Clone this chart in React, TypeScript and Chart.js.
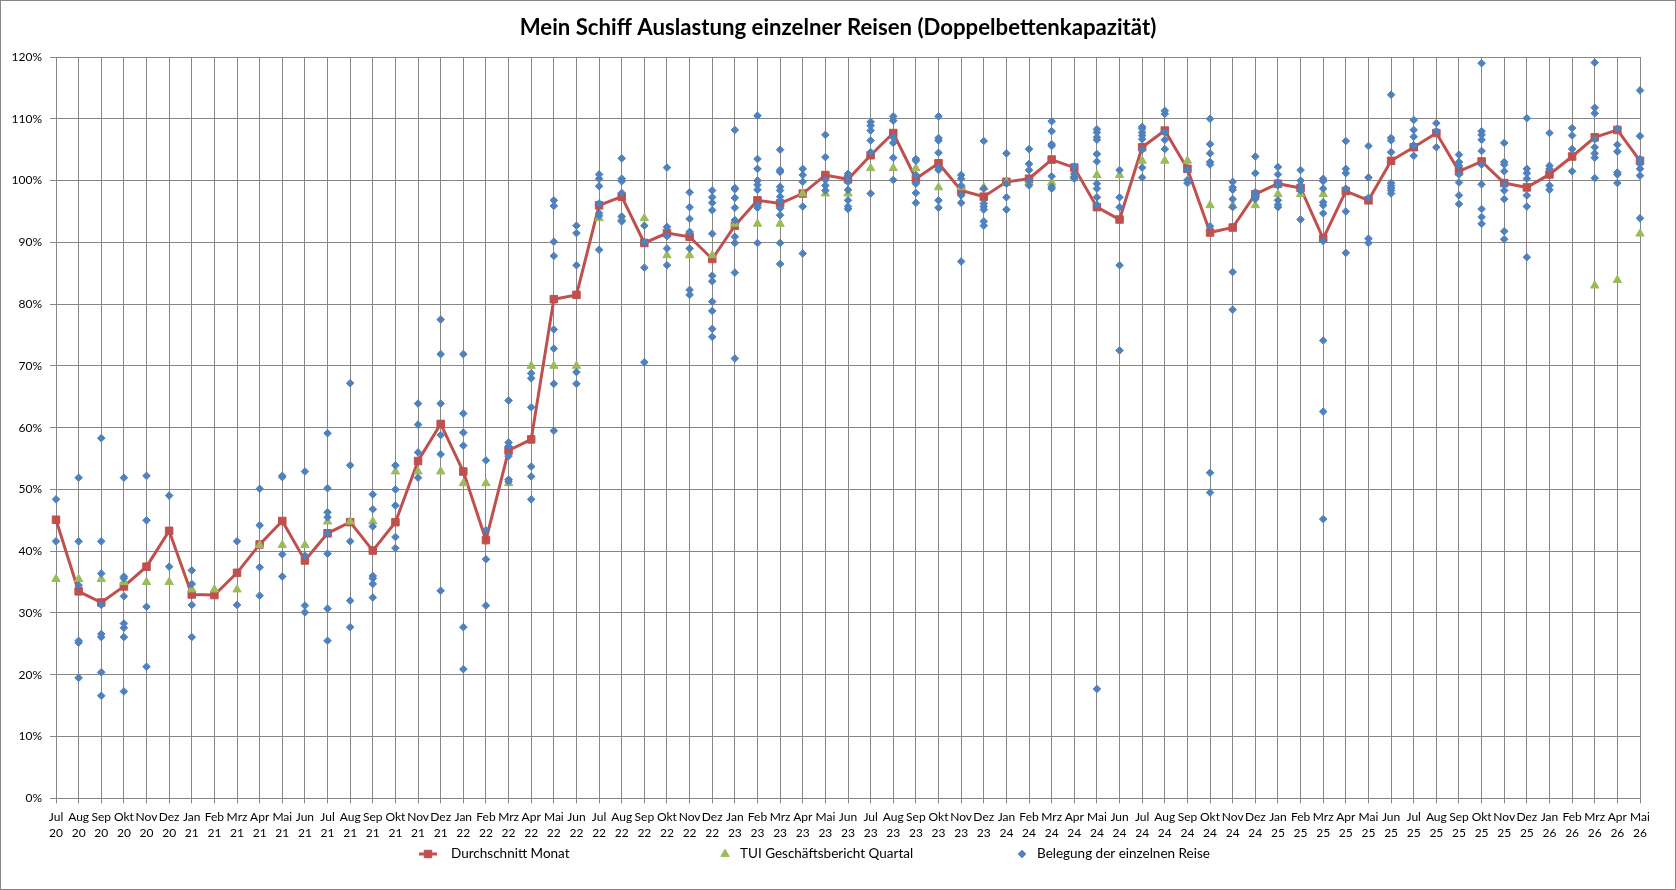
import { useEffect, useRef } from "react";
import { Chart, registerables } from "chart.js";
import type { Plugin } from "chart.js";
import { drawPoint } from "chart.js/helpers";

Chart.register(...registerables);

const FONT = "Lato, 'Open Sans', sans-serif";
const RED = "#C0504D";
const GREEN = "#9BBB59";
const BLUE = "#4F81BD";
const GRID = "#868686";

const months = [
    "Jul 20", "Aug 20", "Sep 20", "Okt 20", "Nov 20", "Dez 20",
    "Jan 21", "Feb 21", "Mrz 21", "Apr 21", "Mai 21", "Jun 21", "Jul 21", "Aug 21", "Sep 21", "Okt 21", "Nov 21", "Dez 21",
    "Jan 22", "Feb 22", "Mrz 22", "Apr 22", "Mai 22", "Jun 22", "Jul 22", "Aug 22", "Sep 22", "Okt 22", "Nov 22", "Dez 22",
    "Jan 23", "Feb 23", "Mrz 23", "Apr 23", "Mai 23", "Jun 23", "Jul 23", "Aug 23", "Sep 23", "Okt 23", "Nov 23", "Dez 23",
    "Jan 24", "Feb 24", "Mrz 24", "Apr 24", "Mai 24", "Jun 24", "Jul 24", "Aug 24", "Sep 24", "Okt 24", "Nov 24", "Dez 24",
    "Jan 25", "Feb 25", "Mrz 25", "Apr 25", "Mai 25", "Jun 25", "Jul 25", "Aug 25", "Sep 25", "Okt 25", "Nov 25", "Dez 25",
    "Jan 26", "Feb 26", "Mrz 26", "Apr 26", "Mai 26",
];

// Durchschnitt Monat (%)
const monthAverage = [
    45.1, 33.5, 31.7, 34.3, 37.5, 43.3,
    33.0, 32.9, 36.5, 41.1, 44.9, 38.5, 42.9, 44.7, 40.1, 44.7, 54.6, 60.6,
    52.9, 41.8, 56.3, 58.1, 80.8, 81.5, 96.0, 97.4, 89.9, 91.5, 90.9, 87.3,
    92.7, 96.8, 96.3, 97.9, 100.9, 100.2, 104.1, 107.7, 100.3, 102.8, 98.4, 97.4,
    99.8, 100.3, 103.4, 102.1, 95.7, 93.7, 105.4, 108.1, 101.9, 91.6, 92.4, 97.8,
    99.5, 98.8, 90.6, 98.3, 96.8, 103.2, 105.4, 107.7, 101.5, 103.1, 99.6, 98.9,
    101.0, 103.9, 107.0, 108.2, 103.2,
];

// TUI Geschäftsbericht Quartal (%)
const tuiQuarter = [
    35.5, 35.5, 35.5, 35.0, 35.0, 35.0,
    33.8, 33.8, 33.8, 41.0, 41.0, 41.0, 44.8, 44.8, 44.8, 52.9, 52.9, 52.9,
    51.0, 51.0, 51.0, 70.0, 70.0, 70.0, 93.9, 93.9, 93.9, 87.9, 87.9, 87.9,
    93.0, 93.0, 93.0, 97.9, 97.9, 97.9, 102.0, 102.0, 102.0, 98.9, 98.9, 98.9,
    99.7, 99.7, 99.7, 100.9, 100.9, 100.9, 103.2, 103.2, 103.2, 96.0, 96.0, 96.0,
    97.8, 97.8, 97.8, null, null, null, null, null, null, null, null, null,
    null, null, 83.0, 83.9, 91.4,
];

// Belegung der einzelnen Reise (%), one list per month
const tripValues: number[][] = [
    [48.4, 41.6],
    [51.9, 41.6, 34.5, 25.5, 25.2, 19.5],
    [58.3, 41.6, 36.4, 31.3, 26.6, 26.1, 20.4, 16.6],
    [51.9, 35.9, 35.6, 32.7, 28.3, 27.6, 26.1, 17.3],
    [52.2, 45.0, 31.0, 21.3],
    [49.0, 37.5],
    [36.9, 34.7, 31.3, 26.1],
    [],
    [41.6, 31.3],
    [50.1, 44.2, 37.4, 32.8],
    [52.2, 52.0, 39.5, 35.9],
    [52.9, 39.3, 31.2, 30.1],
    [59.1, 50.2, 46.3, 45.5, 42.9, 39.6, 30.7, 25.5],
    [67.2, 53.9, 41.6, 32.0, 27.7],
    [49.2, 46.8, 44.0, 36.0, 35.6, 34.7, 32.5],
    [53.9, 50.0, 47.4, 42.3, 40.5],
    [63.9, 60.5, 56.0, 51.9],
    [77.5, 71.9, 63.9, 58.8, 55.7, 33.6],
    [71.9, 62.3, 59.2, 57.1, 27.7, 20.9],
    [54.7, 43.4, 38.7, 31.2],
    [64.4, 57.6, 57.0, 55.4, 51.6, 51.3],
    [68.8, 68.0, 63.3, 53.7, 52.1, 48.4],
    [96.8, 95.9, 90.1, 87.8, 75.9, 72.8, 67.1, 59.5],
    [92.7, 91.5, 86.3, 69.0, 67.1],
    [101.0, 100.3, 99.1, 96.3, 94.7, 94.3, 88.8],
    [103.6, 100.3, 99.9, 98.0, 94.2, 93.4],
    [92.7, 90.0, 85.9, 70.6],
    [102.1, 92.5, 91.0, 89.0, 86.3],
    [98.1, 95.7, 93.8, 91.7, 89.0, 82.3, 81.5],
    [98.4, 97.3, 96.4, 95.2, 91.4, 84.6, 83.7, 80.4, 78.9, 76.0, 74.7],
    [108.2, 98.8, 98.6, 97.2, 95.6, 93.6, 90.9, 89.9, 85.1, 71.2],
    [110.5, 103.5, 101.9, 100.0, 99.3, 98.5, 96.0, 95.6, 89.9],
    [105.0, 101.7, 101.4, 99.0, 98.4, 97.4, 96.6, 95.5, 94.4, 89.9, 86.5],
    [101.9, 100.9, 99.8, 95.8, 88.2],
    [107.4, 103.8, 100.1, 99.2, 98.4],
    [101.1, 100.7, 99.8, 98.5, 96.8, 95.8, 95.4],
    [109.5, 108.9, 108.1, 106.5, 104.6, 97.9],
    [110.4, 109.7, 107.0, 106.1, 103.7, 100.1],
    [103.5, 103.2, 100.9, 99.5, 98.0, 96.4],
    [110.4, 106.9, 106.5, 104.5, 102.1, 101.7, 96.8, 95.6],
    [100.9, 100.3, 99.2, 97.6, 96.4, 86.9],
    [106.4, 98.7, 96.3, 95.8, 95.3, 93.4, 92.7],
    [104.4, 99.5, 97.3, 95.3],
    [105.1, 102.7, 101.7, 100.0, 99.2],
    [109.6, 108.0, 105.9, 105.6, 100.7, 99.0, 98.7],
    [102.3, 101.1, 100.6, 100.3],
    [108.3, 107.8, 107.0, 106.6, 104.3, 103.1, 99.5, 98.7, 97.3, 96.1, 17.7],
    [101.7, 97.3, 95.7, 86.3, 72.5],
    [108.7, 108.4, 107.8, 107.3, 106.7, 105.0, 102.1, 100.5],
    [111.3, 110.8, 107.8, 106.6, 105.1],
    [101.8, 100.1, 99.6],
    [110.0, 105.9, 104.4, 103.0, 102.6, 92.6, 52.7, 49.5],
    [99.8, 98.9, 98.5, 97.0, 95.7, 85.2, 79.1],
    [103.9, 101.2, 98.1, 97.6, 97.0],
    [102.2, 101.0, 99.7, 99.2, 96.8, 96.1, 95.7],
    [101.7, 100.0, 99.2, 98.4, 93.7],
    [100.3, 99.9, 98.7, 96.5, 96.0, 94.7, 90.2, 74.1, 62.6, 45.2],
    [106.4, 101.9, 101.2, 98.7, 95.0, 88.3],
    [105.6, 100.5, 97.2, 90.6, 89.9],
    [113.9, 106.9, 106.5, 104.6, 99.6, 99.2, 98.8, 98.4, 97.9],
    [109.8, 108.2, 107.1, 105.7, 104.0],
    [109.3, 108.0, 105.4],
    [104.2, 103.0, 102.4, 101.0, 99.7, 97.6, 96.2],
    [119.0, 108.0, 107.4, 106.6, 104.8, 102.6, 99.4, 95.4, 94.1, 93.0],
    [106.1, 103.0, 102.6, 101.5, 99.4, 98.4, 97.0, 91.8, 90.5],
    [110.1, 101.9, 101.2, 100.3, 97.6, 95.8, 87.6],
    [107.7, 102.4, 101.9, 99.2, 98.5],
    [108.5, 107.3, 105.1, 101.5],
    [119.1, 111.8, 110.9, 106.7, 105.4, 104.4, 103.7, 100.4],
    [108.4, 105.8, 104.7, 101.3, 101.0, 99.6],
    [114.6, 107.2, 103.5, 102.7, 101.9, 100.8, 93.9],
];

const tripPoints = tripValues.flatMap((vals, i) => vals.map((y) => ({ x: months[i], y })));

// Excel-like legend: equal slots below the plot
const slotLegend: Plugin<"line"> = {
    id: "slotLegend",
    afterDraw(chart) {
        const { ctx, width } = chart;
        const y = 854;
        const slot = 297;
        const start = width / 2 - 419;
        ctx.save();
        ctx.font = `13.5px ${FONT}`;
        ctx.textBaseline = "middle";
        chart.data.datasets.forEach((ds, i) => {
            const x0 = start + i * slot;
            const color = ds.borderColor as string;
            ctx.fillStyle = color;
            ctx.strokeStyle = color;
            let textX = x0 + 24;
            if (i === 0) {
                ctx.lineWidth = 3;
                ctx.beginPath();
                ctx.moveTo(x0, y);
                ctx.lineTo(x0 + 18, y);
                ctx.stroke();
                ctx.lineWidth = 1;
                drawPoint(ctx, { pointStyle: "rect", radius: 5.3, rotation: 0, borderWidth: 1 }, x0 + 9, y);
                textX = x0 + 32;
            } else if (i === 1) {
                ctx.lineWidth = 1;
                drawPoint(ctx, { pointStyle: "triangle", radius: 4.8, rotation: 0, borderWidth: 1 }, x0 + 9, y);
            } else {
                ctx.lineWidth = 1;
                drawPoint(ctx, { pointStyle: "rectRot", radius: 3.8, rotation: 0, borderWidth: 1 }, x0 + 9, y);
            }
            ctx.fillStyle = "#000";
            ctx.fillText(ds.label ?? "", textX, y);
        });
        ctx.restore();
    },
};

export default function App() {
    const canvasRef = useRef<HTMLCanvasElement | null>(null);

    useEffect(() => {
        if (!canvasRef.current) return;

        const chart = new Chart(canvasRef.current, {
            type: "line",
            data: {
                labels: months,
                datasets: [
                    {
                        label: "Durchschnitt Monat",
                        data: monthAverage,
                        borderColor: RED,
                        backgroundColor: RED,
                        borderWidth: 3,
                        pointStyle: "rect",
                        pointRadius: 5.3,
                        pointBorderWidth: 1,
                        pointBackgroundColor: RED,
                        pointBorderColor: RED,
                        tension: 0,
                        order: 3,
                    },
                    {
                        label: "TUI Geschäftsbericht Quartal",
                        data: tuiQuarter,
                        showLine: false,
                        borderColor: GREEN,
                        backgroundColor: GREEN,
                        pointStyle: "triangle",
                        pointRadius: 4.8,
                        pointBorderWidth: 1,
                        order: 2,
                    },
                    {
                        label: "Belegung der einzelnen Reise",
                        data: tripPoints as any,
                        showLine: false,
                        borderColor: BLUE,
                        backgroundColor: BLUE,
                        pointStyle: "rectRot",
                        pointRadius: 3.8,
                        pointBorderWidth: 1,
                        order: 1,
                    },
                ],
            },
            options: {
                responsive: true,
                maintainAspectRatio: false,
                animation: false,
                events: [],
                layout: { padding: { left: 8, right: 8, top: 0, bottom: 43.5 } },
                plugins: {
                    title: {
                        display: true,
                        text: "Mein Schiff Auslastung einzelner Reisen (Doppelbettenkapazität)",
                        color: "#000",
                        font: { family: FONT, size: 22.2, weight: "bold", lineHeight: 1.2 },
                        padding: { top: 15, bottom: 15.4 },
                    },
                    legend: { display: false },
                    tooltip: { enabled: false },
                },
                scales: {
                    x: {
                        type: "category",
                        offset: false,
                        grid: { color: GRID, lineWidth: 1, tickLength: 5, tickColor: GRID },
                        border: { color: GRID, width: 1 },
                        ticks: {
                            autoSkip: false,
                            maxRotation: 0,
                            minRotation: 0,
                            padding: 6,
                            color: "#000",
                            font: { family: FONT, size: 12, lineHeight: 1.3 },
                            callback: (_v, i) => months[i].split(" "),
                        },
                    },
                    y: {
                        min: 0,
                        max: 120,
                        grid: { color: GRID, lineWidth: 1, tickLength: 6, tickColor: GRID },
                        border: { color: GRID, width: 1 },
                        ticks: {
                            stepSize: 10,
                            padding: 8,
                            color: "#000",
                            font: { family: FONT, size: 12 },
                            callback: (v) => v + "%",
                        },
                        afterFit: (scale) => {
                            scale.width = 48;
                        },
                    },
                    // empty right-hand space, keeps the plot where Excel has it
                    yRight: {
                        position: "right",
                        min: 0,
                        max: 120,
                        grid: { display: false },
                        border: { display: false },
                        ticks: { display: false },
                        afterFit: (scale) => {
                            scale.width = 28;
                        },
                    },
                },
            },
            plugins: [slotLegend],
        });

        return () => {
            chart.destroy();
        };
    }, []);

    return (
        <div
            style={{
                position: "fixed",
                left: 0,
                top: 0,
                width: 1676,
                height: 890,
                background: "#fff",
                boxShadow: "inset 0 0 0 1px #868686",
            }}
        >
            <canvas ref={canvasRef} />
        </div>
    );
}
